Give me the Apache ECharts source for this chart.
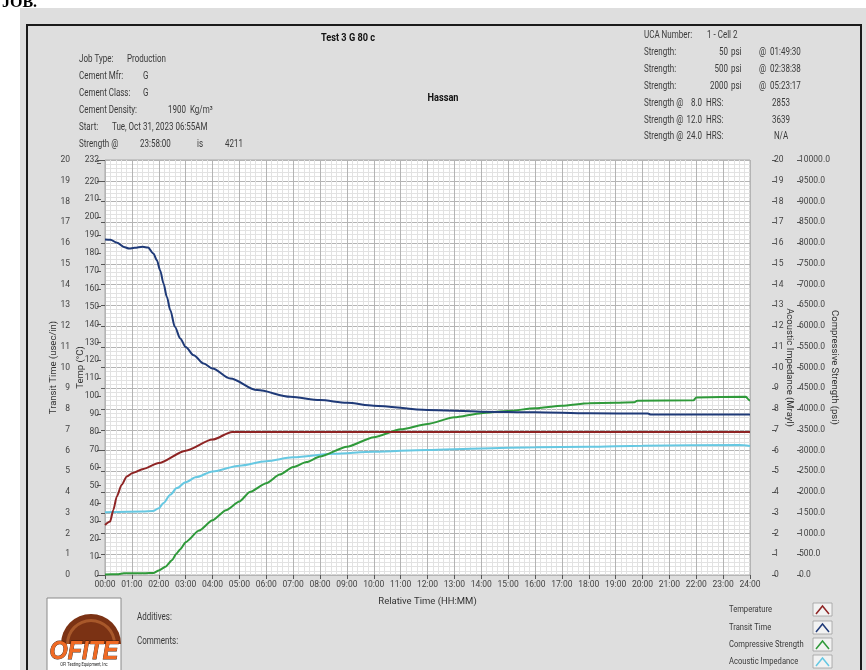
<!DOCTYPE html>
<html>
<head>
<meta charset="utf-8">
<script src="https://cdn.jsdelivr.net/npm/echarts@6/dist/echarts.min.js"></script>
<style>
  html, body { margin: 0; padding: 0; background: #ffffff; }
  #chart { width: 866px; height: 670px; }
</style>
</head>
<body>
<div id="chart"></div>
<script>
// ---- Test data (time in hours since start) ----
const tempHours   = [0, 0.19, 0.31, 0.44, 0.62, 0.81, 1.03, 1.43, 2.0, 3.0, 4.0, 4.73, 8, 12, 16, 20, 24];
const tempValues  = [28, 29.9, 36.4, 43.9, 50.5, 55.1, 57, 59.3, 62.6, 69.5, 75.7, 80, 80, 80, 80, 80, 80];

const transitHours  = [0, 0.2, 0.45, 0.7, 0.9, 1.1, 1.4, 1.6, 1.8, 1.93, 2.05, 2.18, 2.3, 2.43, 2.6, 2.8, 3.0, 3.3, 3.67, 4.0, 4.66, 5.66, 6.9, 8, 9, 10, 12, 14, 16, 18, 20.2, 20.3, 24];
const transitValues = [16.17, 16.16, 16.01, 15.81, 15.73, 15.77, 15.82, 15.78, 15.49, 15.17, 14.69, 14.04, 13.41, 12.76, 11.96, 11.40, 10.99, 10.59, 10.19, 9.95, 9.47, 8.91, 8.59, 8.43, 8.30, 8.16, 7.95, 7.87, 7.84, 7.79, 7.78, 7.74, 7.74];

const strengthHours  = [0, 0.5, 0.7, 1.0, 1.5, 1.82, 2.0, 2.25, 2.5, 2.64, 2.8, 3.0, 3.5, 4.0, 4.5, 5.0, 5.39, 6.0, 6.5, 7.0, 7.5, 8.0, 9, 10, 11, 12, 13, 14, 15, 16, 17, 18, 19, 19.7, 19.8, 21.9, 22.0, 23.85, 23.97, 24];
const strengthValues = [15, 20, 40, 40, 42, 50, 110, 200, 360, 500, 620, 790, 1070, 1320, 1560, 1770, 2000, 2210, 2420, 2600, 2720, 2853, 3090, 3320, 3510, 3639, 3800, 3900, 3950, 4020, 4080, 4140, 4150, 4160, 4200, 4210, 4280, 4295, 4211, 4211];

const impedanceHours  = [0, 1.4, 1.8, 2.0, 2.18, 2.43, 2.67, 3.0, 3.4, 4.0, 5.0, 6.0, 7.0, 8.5, 10, 12, 14, 16, 18, 20, 23.6, 24];
const impedanceValues = [3.02, 3.06, 3.09, 3.22, 3.47, 3.87, 4.19, 4.47, 4.72, 4.99, 5.27, 5.48, 5.67, 5.84, 5.94, 6.03, 6.10, 6.16, 6.18, 6.23, 6.27, 6.22];

// ---- Header information ----
const jobLabels = ['Job Type:', 'Cement Mfr:', 'Cement Class:', 'Cement Density:', 'Start:', 'Strength @'];
const jobValues = ['Production', 'G', 'G', '1900  Kg/m³', 'Tue, Oct 31, 2023 06:55AM', '23:58:00'];
const strengthTargets = ['50', '500', '2000'];
const strengthTimes   = ['01:49:30', '02:38:38', '05:23:17'];
const strengthAtHours = ['8.0', '12.0', '24.0'];
const strengthAtVals  = ['2853', '3639', 'N/A'];

const legendNames  = ['Temperature', 'Transit Time', 'Compressive Strength', 'Acoustic Impedance'];
const legendColors = ['#8e2424', '#1f3a78', '#2f9a3a', '#66c8e2'];

const FONT = "Roboto, 'Open Sans', sans-serif";
const TXT = '#3a3a3a';
const NARROW = 0.8; // horizontal squeeze for the condensed panel lettering

const zip = (xs, ys) => xs.map((x, i) => [x, ys[i]]);

function txt(x, y, s, opts) {
  opts = opts || {};
  return {
    type: 'text', x: x, y: y, silent: true,
    scaleX: opts.sx || NARROW, scaleY: 1, originX: 0, originY: 0,
    style: {
      text: s,
      font: (opts.weight || 'normal') + ' ' + (opts.size || 10) + 'px ' + (opts.family || FONT),
      fill: opts.color || TXT,
      stroke: opts.stroke || null,
      lineWidth: opts.lineWidth || 0,
      textAlign: opts.align || 'left',
      textVerticalAlign: opts.valign || 'middle'
    },
    z: opts.z || 10
  };
}

const graphics = [];
// Page heading fragment and panel
graphics.push(txt(2, 11, 'JOB.', { weight: 'bold', size: 16, family: "'Liberation Serif', serif", color: '#000', valign: 'bottom', sx: 1 }));
graphics.push({ type: 'rect', shape: { x: 20, y: 8, width: 846, height: 662 }, style: { fill: '#dedede' }, z: -10, silent: true });
graphics.push({ type: 'rect', shape: { x: 27, y: 25, width: 834, height: 660 }, style: { fill: 'none', stroke: '#1a1a1a', lineWidth: 2 }, z: -5, silent: true });

// Titles
graphics.push(txt(348, 38, 'Test 3 G 80 c', { weight: 'bold', size: 11.5, color: '#111', align: 'center' }));
graphics.push(txt(443, 98, 'Hassan', { weight: 'bold', size: 11.5, color: '#111', align: 'center' }));

// Left info block
const rowY = [59, 76, 93, 110, 127, 144];
const valX = [127, 143, 143, 168, 112, 140];
jobLabels.forEach((l, i) => {
  graphics.push(txt(79, rowY[i], l));
  graphics.push(txt(valX[i], rowY[i], jobValues[i]));
});
graphics.push(txt(197, 144, 'is'));
graphics.push(txt(225, 144, '4211'));

// Right info block
const rY = [35, 52.5, 69.5, 86, 103, 120, 136.5];
graphics.push(txt(644, rY[0], 'UCA Number:'));
graphics.push(txt(707, rY[0], '1 - Cell 2'));
strengthTargets.forEach((v, i) => {
  const y = rY[i + 1];
  graphics.push(txt(644, y, 'Strength:'));
  graphics.push(txt(728, y, v, { align: 'right' }));
  graphics.push(txt(731, y, 'psi'));
  graphics.push(txt(759, y, '@'));
  graphics.push(txt(770, y, strengthTimes[i]));
});
strengthAtHours.forEach((h, i) => {
  const y = rY[i + 4];
  graphics.push(txt(644, y, 'Strength @'));
  graphics.push(txt(702, y, h, { align: 'right' }));
  graphics.push(txt(706, y, 'HRS:'));
  graphics.push(txt(781, y, strengthAtVals[i], { align: 'center' }));
});

// Footer: logo
graphics.push({ type: 'rect', shape: { x: 47, y: 598, width: 74, height: 76 }, style: { fill: '#ffffff', stroke: '#8a8a8a', lineWidth: 1 }, z: 5, silent: true });
graphics.push({ type: 'sector', shape: { cx: 91, cy: 644, r: 30, r0: 0, startAngle: Math.PI, endAngle: 2 * Math.PI }, style: { fill: '#7b3214' }, z: 6, silent: true });
graphics.push({ type: 'sector', shape: { cx: 91, cy: 644, r: 25, r0: 22, startAngle: Math.PI, endAngle: 2 * Math.PI }, style: { fill: '#a8582a' }, z: 7, silent: true });
graphics.push(txt(84, 652, 'OFITE', { weight: 'italic bold', size: 26, family: "'Liberation Sans', sans-serif", color: '#f06a24', align: 'center', stroke: '#3b1a08', lineWidth: 0.8, z: 8, sx: 0.9 }));
graphics.push(txt(84, 665, 'OFI Testing Equipment, Inc', { size: 5, color: '#222', align: 'center', z: 8 }));

graphics.push(txt(137, 617, 'Additives:'));
graphics.push(txt(137, 641, 'Comments:'));

// Footer: legend with caret swatches
const legY = [610, 628, 645, 662];
legendNames.forEach((n, i) => {
  const y = legY[i];
  graphics.push(txt(729, y, n, { size: 9.5 }));
  graphics.push({ type: 'rect', shape: { x: 813, y: y - 7, width: 19, height: 13 }, style: { fill: '#f2f2f2', stroke: '#a0a0a0', lineWidth: 0.8 }, z: 5, silent: true });
  graphics.push({ type: 'polyline', shape: { points: [[816, y + 4], [822.5, y - 4], [829, y + 4]] }, style: { stroke: legendColors[i], lineWidth: 1.5, fill: 'none' }, z: 6, silent: true });
});

const axisLabelStyle = { color: '#444', fontSize: 8.5, fontFamily: FONT };
const nameStyle = { color: '#333', fontSize: 9.5, fontFamily: FONT };

function yAxisBase(extra) {
  return Object.assign({
    type: 'value',
    axisLine: { show: false },
    axisTick: { show: true, length: 4, lineStyle: { color: '#555' } },
    splitLine: { show: false },
    nameLocation: 'middle',
    nameMoveOverlap: false,
    nameTextStyle: nameStyle
  }, extra);
}

const option = {
  animation: false,
  backgroundColor: 'transparent',
  textStyle: { fontFamily: FONT },
  graphic: graphics,
  grid: {
    left: 105, right: 116, top: 160, bottom: 95,
    show: true, backgroundColor: '#ffffff', borderColor: '#a8a8a8', borderWidth: 1
  },
  xAxis: {
    type: 'value', min: 0, max: 24, interval: 1,
    name: 'Relative Time (HH:MM)', nameLocation: 'middle', nameGap: 22, nameMoveOverlap: false,
    nameTextStyle: nameStyle,
    axisLine: { show: false },
    axisTick: { show: true, length: 4, lineStyle: { color: '#555' } },
    axisLabel: Object.assign({ margin: 5, formatter: v => (v < 10 ? '0' : '') + v + ':00' }, axisLabelStyle),
    splitLine: { show: true, lineStyle: { color: '#b4b4b4', width: 1 } },
    minorTick: { show: false, splitNumber: 5 },
    minorSplitLine: { show: true, lineStyle: { color: '#e2e2e2', width: 1 } }
  },
  yAxis: [
    yAxisBase({
      name: 'Transit Time (usec/in)', nameGap: 14, position: 'left', offset: 32,
      min: 0, max: 20, interval: 1,
      axisLabel: Object.assign({ margin: 3 }, axisLabelStyle),
      splitLine: { show: true, lineStyle: { color: '#b4b4b4', width: 1 } },
      minorTick: { show: false, splitNumber: 5 },
      minorSplitLine: { show: true, lineStyle: { color: '#e2e2e2', width: 1 } }
    }),
    yAxisBase({
      name: 'Temp (°C)', nameGap: 15, position: 'left', offset: 4,
      min: 0, max: 232, interval: 10,
      axisLabel: Object.assign({ margin: 2, formatter: v => (v === 230 ? '' : String(v)) }, axisLabelStyle)
    }),
    yAxisBase({
      name: 'Acoustic Impedance (Mrayl)', nameGap: 12, nameRotate: -90, position: 'right', offset: 22,
      min: 0, max: 20, interval: 1,
      axisLabel: Object.assign({ margin: 2 }, axisLabelStyle)
    }),
    yAxisBase({
      name: 'Compressive Strength (psi)', nameGap: 32, nameRotate: -90, position: 'right', offset: 47,
      min: 0, max: 10000, interval: 500,
      axisLabel: Object.assign({ margin: 2, formatter: v => v.toFixed(1) }, axisLabelStyle)
    })
  ],
  series: [
    { name: 'Acoustic Impedance', type: 'line', yAxisIndex: 2, data: zip(impedanceHours, impedanceValues), showSymbol: false, smooth: 0.3, smoothMonotone: 'x', lineStyle: { color: legendColors[3], width: 2 }, z: 2 },
    { name: 'Compressive Strength', type: 'line', yAxisIndex: 3, data: zip(strengthHours, strengthValues), showSymbol: false, smooth: 0.2, smoothMonotone: 'x', lineStyle: { color: legendColors[2], width: 2 }, z: 3 },
    { name: 'Temperature', type: 'line', yAxisIndex: 1, data: zip(tempHours, tempValues), showSymbol: false, smooth: 0.25, smoothMonotone: 'x', lineStyle: { color: legendColors[0], width: 2 }, z: 4 },
    { name: 'Transit Time', type: 'line', yAxisIndex: 0, data: zip(transitHours, transitValues), showSymbol: false, smooth: 0.3, smoothMonotone: 'x', lineStyle: { color: legendColors[1], width: 2 }, z: 5 }
  ]
};

const chart = echarts.init(document.getElementById('chart'), null, { renderer: 'canvas' });
chart.setOption(option);
</script>
</body>
</html>
